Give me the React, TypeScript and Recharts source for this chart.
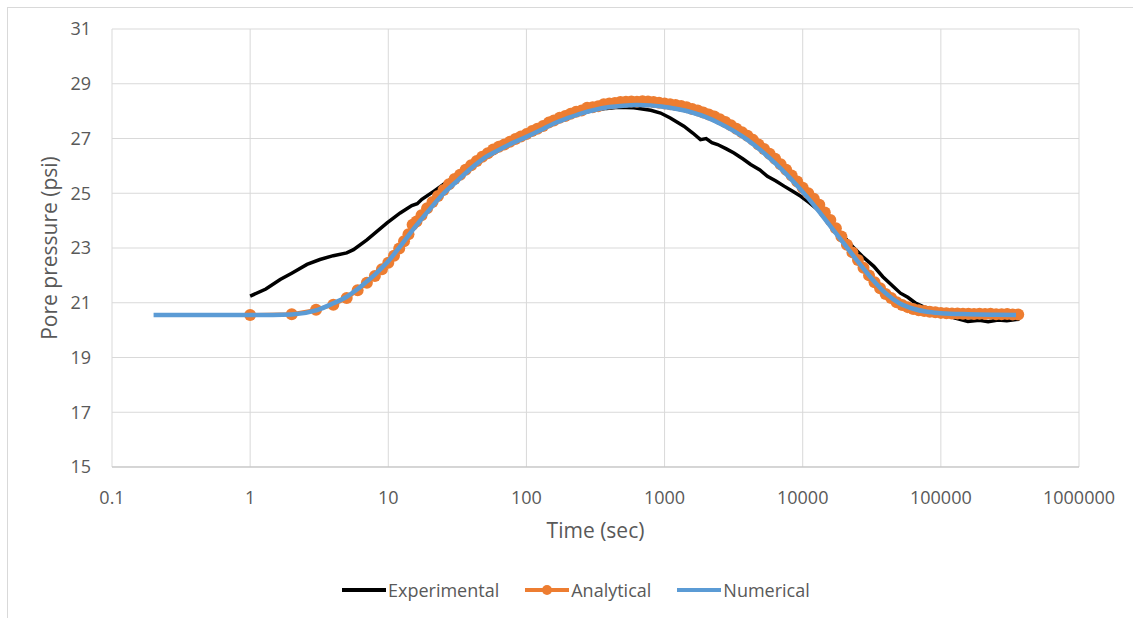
import React from "react";
import { LineChart, Line, XAxis, YAxis, CartesianGrid, Legend, Label } from "recharts";

// Time axis ticks (log scale) and pressure ticks
const timeTicks = [0.1, 1, 10, 100, 1000, 10000, 100000, 1000000];
const pressureTicks = [15, 17, 19, 21, 23, 25, 27, 29, 31];

// Experimental record
const experimentalTime = [
  1, 1.3, 1.65, 2, 2.58, 3.2, 4, 5, 5.6, 7, 9.8, 12.2, 14.8, 16.2, 17.5, 21.3, 26.4, 30, 36, 45,
  56, 70, 90, 120, 167, 220, 300, 380, 461, 600, 794, 935, 1100, 1380, 1600, 1820, 2000, 2200,
  2420, 2800, 3180, 3700, 4200, 4900, 5550, 6400, 7330, 8400, 9680, 11200, 12850, 14500, 16500,
  19800, 23000, 27000, 32700, 38000, 45000, 51000, 57600, 65000, 75000, 89000, 105000, 125000,
  157000, 190000, 220000, 260000, 300000, 340000, 370000,
];
const experimentalPressure = [
  21.24, 21.5, 21.85, 22.08, 22.4, 22.58, 22.72, 22.82, 22.94, 23.3, 23.92, 24.28, 24.55, 24.62,
  24.78, 25.07, 25.4, 25.6, 25.86, 26.15, 26.42, 26.7, 26.95, 27.3, 27.62, 27.85, 28.02, 28.1,
  28.14, 28.12, 28.03, 27.93, 27.75, 27.45, 27.2, 26.96, 27.0, 26.85, 26.78, 26.62, 26.47, 26.25,
  26.05, 25.85, 25.62, 25.45, 25.26, 25.08, 24.89, 24.65, 24.4, 24.13, 23.84, 23.42, 23.05, 22.7,
  22.33, 21.95, 21.6, 21.35, 21.2, 21.0, 20.85, 20.76, 20.6, 20.45, 20.32, 20.36, 20.31, 20.37,
  20.34, 20.38, 20.4,
];

// Analytical solution
const analyticalTime = [
  1, 2, 3, 4, 5, 6, 7, 8, 9, 10, 11, 12, 13, 14, 15, 16, 17.4, 19.1, 20.9, 22.9, 25.1, 27.5, 30.2,
  33.1, 36.3, 39.8, 43.7, 47.9, 52.5, 57.5, 63.1, 69.2, 75.9, 83.2, 91.2, 100, 110, 120, 132, 145,
  158, 174, 191, 209, 229, 251, 275, 302, 331, 363, 398, 437, 479, 525, 575, 631, 692, 759, 832,
  912, 1000, 1096, 1202, 1318, 1445, 1585, 1738, 1905, 2089, 2291, 2512, 2754, 3020, 3311, 3631,
  3981, 4365, 4786, 5248, 5754, 6310, 6918, 7586, 8318, 9120, 10000, 10965, 12023, 13183, 14454,
  15849, 17378, 19055, 20893, 22909, 25119, 27542, 30200, 33113, 36308, 39811, 43652, 47863,
  52481, 57544, 63096, 69183, 75858, 83176, 91201, 100000, 109648, 120226, 131826, 144544, 158489,
  173780, 190546, 208930, 229087, 251189, 275423, 301995, 331131, 363078,
];
const analyticalPressure = [
  20.55, 20.58, 20.74, 20.93, 21.17, 21.46, 21.73, 21.98, 22.22, 22.46, 22.72, 22.98, 23.25, 23.5,
  23.85, 23.97, 24.2, 24.45, 24.68, 24.9, 25.12, 25.33, 25.52, 25.68, 25.86, 26.02, 26.18, 26.33,
  26.46, 26.6, 26.7, 26.78, 26.88, 26.98, 27.07, 27.16, 27.27, 27.36, 27.46, 27.58, 27.66, 27.76,
  27.82, 27.9, 27.98, 28.02, 28.12, 28.14, 28.18, 28.25, 28.28, 28.3, 28.33, 28.34, 28.35, 28.34,
  28.36, 28.35, 28.33, 28.31, 28.28, 28.25, 28.22, 28.19, 28.14, 28.08, 28.02, 27.95, 27.88, 27.8,
  27.7, 27.6, 27.48, 27.36, 27.23, 27.1, 26.95, 26.78, 26.62, 26.44, 26.26, 26.06, 25.86, 25.65,
  25.43, 25.2, 25.0, 24.8, 24.58, 24.3, 24.02, 23.72, 23.42, 23.12, 22.84, 22.56, 22.28, 22.0,
  21.75, 21.53, 21.32, 21.17, 21.02, 20.92, 20.84, 20.77, 20.73, 20.7, 20.67, 20.65, 20.63, 20.62,
  20.61, 20.61, 20.6, 20.6, 20.59, 20.6, 20.59, 20.6, 20.58, 20.58, 20.59, 20.57, 20.57,
];

// Numerical simulation
const numericalTime = [
  0.2, 1, 2, 3, 4, 5, 6, 7, 8, 9, 10, 12.6, 15.8, 20, 25, 32, 40, 50, 63, 79, 100, 126, 158, 200,
  251, 316, 398, 501, 631, 794, 1000, 1259, 1585, 1995, 2512, 3162, 3981, 5012, 6310, 7943, 10000,
  12589, 15849, 19953, 25119, 31623, 39811, 50119, 63096, 79433, 100000, 158489, 251189, 350000,
];
const numericalPressure = [
  20.55, 20.55, 20.57, 20.72, 20.98, 21.22, 21.5, 21.78, 22.03, 22.28, 22.52, 23.15, 23.8, 24.42,
  24.98, 25.48, 25.92, 26.3, 26.58, 26.83, 27.06, 27.3, 27.55, 27.75, 27.92, 28.05, 28.15, 28.2,
  28.22, 28.21, 28.15, 28.07, 27.95, 27.78, 27.55, 27.28, 26.95, 26.55, 26.1, 25.6, 25.05, 24.45,
  23.8, 23.15, 22.5, 21.88, 21.35, 20.98, 20.78, 20.67, 20.62, 20.58, 20.56, 20.55,
];

const toPoints = (ts: number[], ps: number[]) => ts.map((t, i) => ({ t, p: ps[i] }));

const experimental = toPoints(experimentalTime, experimentalPressure);
const analytical = toPoints(analyticalTime, analyticalPressure);
const numerical = toPoints(numericalTime, numericalPressure);

const FONT = '"Open Sans", "Liberation Sans", sans-serif';
const TEXT = "#595959";
const BLACK = "#000000";
const ORANGE = "#ED7D31";
const BLUE = "#5B9BD5";

const legendItems = [
  { name: "Experimental", color: BLACK, dot: false },
  { name: "Analytical", color: ORANGE, dot: true },
  { name: "Numerical", color: BLUE, dot: false },
];

const LegendContent = () => (
  <div
    style={{
      display: "flex",
      alignItems: "center",
      height: 24,
      paddingLeft: 334,
      fontFamily: FONT,
      fontSize: 18,
      color: TEXT,
    }}
  >
    {legendItems.map((it, i) => (
      <div
        key={it.name}
        style={{ display: "flex", alignItems: "center", marginLeft: i === 0 ? 0 : 26 }}
      >
        <svg width={44} height={14} style={{ marginRight: 2 }}>
          <line x1={0} y1={7} x2={44} y2={7} stroke={it.color} strokeWidth={4} />
          {it.dot && <circle cx={22} cy={7} r={5} fill={it.color} />}
        </svg>
        <span style={{ lineHeight: "24px" }}>{it.name}</span>
      </div>
    ))}
  </div>
);

export default function App() {
  return (
    <div
      style={{
        position: "absolute",
        left: 7,
        top: 7,
        width: 1126,
        height: 611,
        boxSizing: "border-box",
        borderTop: "1px solid #d9d9d9",
        borderLeft: "1px solid #d9d9d9",
        background: "#ffffff",
      }}
    >
      <LineChart
        width={1125}
        height={610}
        margin={{ top: 21, right: 54, bottom: 111, left: 0 }}
        style={{ fontFamily: FONT }}
      >
        <CartesianGrid stroke="#d9d9d9" strokeWidth={1} />
        <XAxis
          dataKey="t"
          type="number"
          scale="log"
          domain={[0.1, 1000000]}
          ticks={timeTicks}
          allowDataOverflow
          height={40}
          tickLine={false}
          tickSize={0}
          tickMargin={24}
          axisLine={{ stroke: "#bfbfbf" }}
          tick={{ fill: TEXT, fontSize: 18, fontFamily: FONT }}
          interval={0}
        >
          <Label
            value="Time (sec)"
            position="bottom"
            offset={16}
            style={{ fill: TEXT, fontSize: 21, fontFamily: FONT }}
          />
        </XAxis>
        <YAxis
          type="number"
          domain={[15, 31]}
          ticks={pressureTicks}
          allowDataOverflow
          width={104}
          axisLine={false}
          tickLine={false}
          tickSize={0}
          tickMargin={21}
          tick={{ fill: TEXT, fontSize: 18, fontFamily: FONT }}
          interval={0}
        >
          <Label
            value="Pore pressure (psi)"
            position="insideLeft"
            angle={-90}
            offset={42}
            textAnchor="middle"
            style={{ fill: TEXT, fontSize: 21, fontFamily: FONT, textAnchor: "middle" }}
          />
        </YAxis>
        <Legend
          layout="horizontal"
          verticalAlign="middle"
          align="center"
          wrapperStyle={{ left: 0, top: 570, width: 1125, height: 24 }}
          content={() => <LegendContent />}
        />
        <Line
          data={experimental}
          dataKey="p"
          name="Experimental"
          type="linear"
          stroke={BLACK}
          strokeWidth={3.5}
          dot={false}
          activeDot={false}
          isAnimationActive={false}
        />
        <Line
          data={analytical}
          dataKey="p"
          name="Analytical"
          type="linear"
          stroke={ORANGE}
          strokeWidth={4}
          dot={{ r: 6, fill: ORANGE, stroke: ORANGE, strokeWidth: 0 }}
          activeDot={false}
          isAnimationActive={false}
        />
        <Line
          data={numerical}
          dataKey="p"
          name="Numerical"
          type="monotone"
          stroke={BLUE}
          strokeWidth={4.5}
          dot={false}
          activeDot={false}
          isAnimationActive={false}
          zIndex={700}
        />
      </LineChart>
    </div>
  );
}
